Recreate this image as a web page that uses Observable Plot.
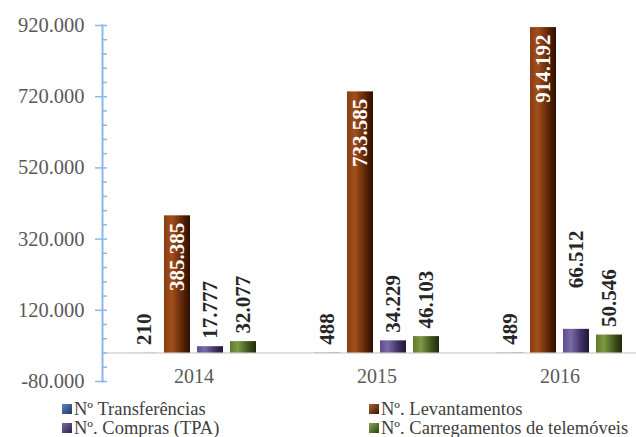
<!DOCTYPE html>
<html><head><meta charset="utf-8">
<script src="https://cdn.jsdelivr.net/npm/d3@7"></script>
<script src="https://cdn.jsdelivr.net/npm/@observablehq/plot@0.6"></script>
<style>
body{margin:0;background:#fff;width:636px;height:437px;overflow:hidden;font-family:"Liberation Serif","Times New Roman",serif}
#wrap{position:relative;width:636px;height:437px}
#chart svg{display:block;position:absolute;left:0;top:0}
.lg{position:absolute;font-size:18.5px;color:#404040;line-height:18px;white-space:nowrap;display:flex;align-items:center}
.sw{width:10px;height:10px;margin-right:2px;display:inline-block;box-sizing:border-box}
</style></head><body><div id="wrap"><div id="chart"></div></div>
<script>
const years = ["2014", "2015", "2016"];
const series = ["Nº Transferências", "Nº. Levantamentos", "Nº. Compras (TPA)", "Nº. Carregamentos de telemóveis"];
const transferencias = [210, 488, 489];
const levantamentos = [385385, 733585, 914192];
const compras = [17777, 34229, 66512];
const carregamentos = [32077, 46103, 50546];
const yTicks = [-80000, 120000, 320000, 520000, 720000, 920000];

const valuesBySeries = [transferencias, levantamentos, compras, carregamentos];
const data = years.flatMap((year, i) => series.map((s, j) => ({year, series: s, value: valuesBySeries[j][i]})));
const fmt = d => d3.format(",")(d).replace(/,/g, ".").replace("\u2212", "-");
const minorTicks = d3.range(-80000, 920001, 40000);
const axisColor = "#8cb7e6";
const gradIds = ["gT", "gL", "gC", "gR"];
const serif = "Liberation Serif, Times New Roman, serif";

const isSpecial = d => d.year === "2016" && d.series === series[2];
const small = data.filter(d => d.series !== series[1] && !isSpecial(d));
const special = data.filter(isSpecial);
const lev = data.filter(d => d.series === series[1]);

const chart = Plot.plot({
  width: 636, height: 398,
  marginLeft: 101, marginRight: -15, marginTop: 25, marginBottom: 17,
  style: {fontFamily: serif, background: "transparent", overflow: "visible"},
  fx: {domain: years, padding: 0, axis: null},
  x: {domain: series, paddingInner: 0.2, paddingOuter: 0.81, axis: null},
  y: {domain: [-80000, 920000], axis: null},
  color: {domain: series, range: gradIds.map(id => `url(#${id})`)},
  marks: [
    Plot.ruleY([0], {stroke: "#d4d4d4", strokeWidth: 1.5}),
    Plot.barY(data, {fx: "year", x: "series", y: "value", fill: "series"}),
    Plot.text(small, {fx: "year", x: "series", y: "value", text: d => fmt(d.value), rotate: -90, textAnchor: "start", dy: -8, fontWeight: "bold", fontSize: 21, fill: "#262626", fontFamily: serif}),
    Plot.text(special, {fx: "year", x: "series", y: "value", text: d => fmt(d.value), rotate: -90, textAnchor: "start", dy: -41, fontWeight: "bold", fontSize: 21, fill: "#262626", fontFamily: serif}),
    Plot.text(lev, {fx: "year", x: "series", y: "value", text: d => fmt(d.value), rotate: -90, textAnchor: "end", dy: 7, fontWeight: "bold", fontSize: 21, fill: "#ffffff", fontFamily: serif}),
    Plot.text(years, {fx: d => d, y: d => 0, text: d => d, dy: 24, fontSize: 20, fill: "#595959", fontFamily: serif}),
    Plot.frame({anchor: "left", stroke: axisColor, strokeWidth: 2, facetAnchor: "left"}),
    Plot.axisY(yTicks, {tickSize: 7, tickPadding: 11, tickFormat: fmt, fontSize: 20.5, fill: "#595959", stroke: axisColor, strokeWidth: 1.5, label: null, fontFamily: serif}),
    Plot.axisY(minorTicks, {tickSize: 5, dx: 5, text: null, label: null, stroke: axisColor, strokeWidth: 1.5})
  ]
});
document.getElementById("chart").appendChild(chart);

// gradient definitions for the bevelled bars
const svg = d3.select(chart.tagName.toLowerCase() === "svg" ? chart : chart.querySelector("svg"));
const defs = svg.insert("defs", ":first-child");
const gradStops = {
  gT: ["#5b86c0", "#2f5597", "#1f3864", "#0f1c33"],
  gL: ["#a34f1c", "#8a3d0e", "#5e2606", "#2b0f02"],
  gC: ["#7a6aa8", "#5f4d8c", "#3f3163", "#1f1833"],
  gR: ["#7e9a45", "#5f7a2a", "#40541b", "#20290c"]
};
for (const id of gradIds) {
  const g = defs.append("linearGradient").attr("id", id).attr("x1", 0).attr("x2", 1).attr("y1", 0).attr("y2", 0);
  const c = gradStops[id];
  [[0, c[1]], [0.3, c[0]], [0.7, c[2]], [1, c[3]]].forEach(([o, col]) => g.append("stop").attr("offset", o).attr("stop-color", col));
}

// legend below the chart
const wrap = document.getElementById("wrap");
const swatchCss = [
  "linear-gradient(135deg,#5b86c0,#1f3864)",
  "linear-gradient(135deg,#b0602a,#3a1505)",
  "linear-gradient(135deg,#7a6aa8,#2a2145)",
  "linear-gradient(135deg,#8aa850,#2f3f12)"
];
const pos = [[62, 400], [369, 400], [62, 419], [369, 419]];
series.forEach((s, i) => {
  const el = document.createElement("div");
  el.className = "lg";
  el.style.left = pos[i][0] + "px";
  el.style.top = pos[i][1] + "px";
  const sw = document.createElement("span");
  sw.className = "sw";
  sw.style.background = swatchCss[i];
  el.appendChild(sw);
  el.appendChild(document.createTextNode(s));
  wrap.appendChild(el);
});
</script></body></html>
